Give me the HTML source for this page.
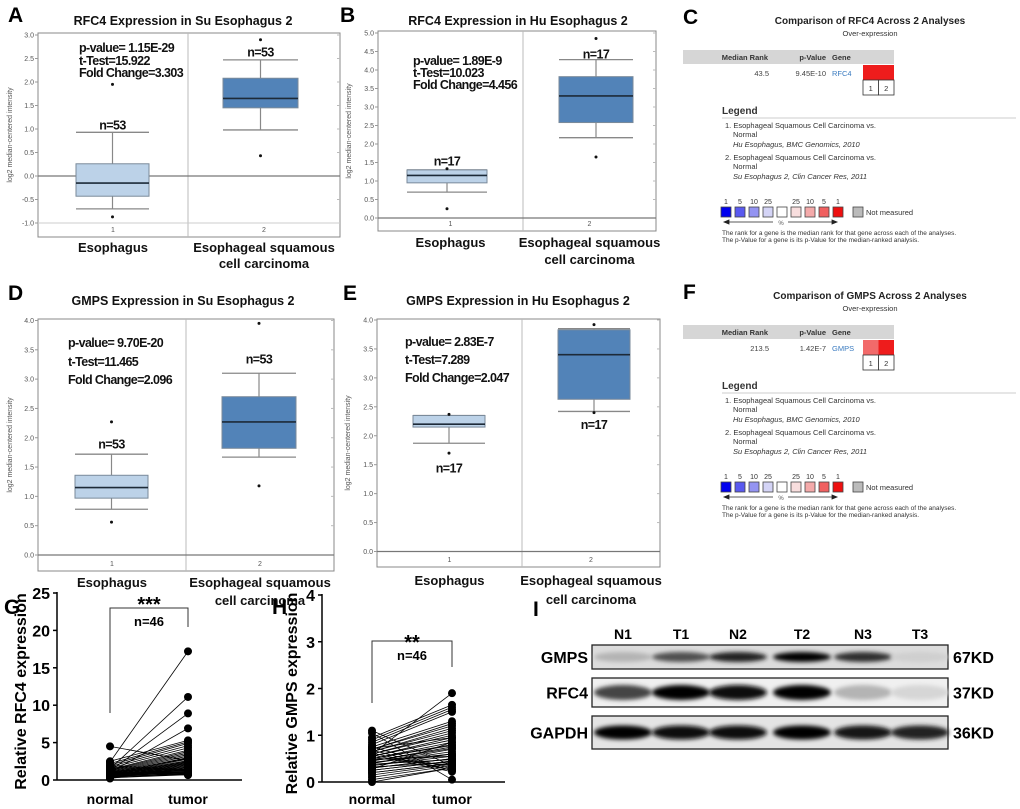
<!DOCTYPE html>
<html><head><meta charset="utf-8"><style>
body{margin:0;background:#fff;}
svg{display:block;font-family:"Liberation Sans",Arial,sans-serif;}
.lt{font-weight:bold;font-size:21px;fill:#000}
.ti{font-weight:bold;font-size:12.5px;fill:#111}
.st{font-weight:bold;font-size:12.5px;fill:#111;letter-spacing:-0.6px}
.tk{font-size:7px;fill:#555}
.cat{font-weight:bold;font-size:13px;fill:#111}
.on{font-size:7.5px;fill:#333}
</style></head><body>
<svg id="fig" width="1020" height="809" viewBox="0 0 1020 809">
<defs><filter id="bl" x="-30%" y="-100%" width="160%" height="300%"><feGaussianBlur stdDeviation="2"/></filter></defs>
<g id="boxes"></g>
<g id="onco"></g>
<g id="pairs"></g>
<g id="wb"></g>
</svg>
<script>
// ---- Box plot data (panels A,B,D,E) ----
const A_low=[-0.7,0.98], A_q1=[-0.43,1.45], A_med=[-0.15,1.65], A_q3=[0.26,2.08], A_high=[0.93,2.47], A_out=[[1.95,-0.87],[0.43,2.9]], A_n=["n=53","n=53"];
const B_low=[0.7,2.17], B_q1=[0.95,2.58], B_med=[1.15,3.3], B_q3=[1.3,3.82], B_high=[1.3,4.28], B_out=[[1.33,0.25],[1.65,4.85]], B_n=["n=17","n=17"];
const D_low=[0.78,1.67], D_q1=[0.97,1.82], D_med=[1.15,2.27], D_q3=[1.36,2.7], D_high=[1.72,3.1], D_out=[[2.27,0.56],[1.18,3.95]], D_n=["n=53","n=53"];
const E_low=[1.87,2.42], E_q1=[2.15,2.63], E_med=[2.2,3.4], E_q3=[2.35,3.83], E_high=[2.35,3.85], E_out=[[2.37,1.7],[2.4,3.92]], E_n=["n=17","n=17"];
const A_ticks=[-1.0,-0.5,0.0,0.5,1.0,1.5,2.0,2.5,3.0];
const B_ticks=[0.0,0.5,1.0,1.5,2.0,2.5,3.0,3.5,4.0,4.5,5.0];
const D_ticks=[0.0,0.5,1.0,1.5,2.0,2.5,3.0,3.5,4.0];
const E_ticks=[0.0,0.5,1.0,1.5,2.0,2.5,3.0,3.5,4.0];
// ---- Paired data (G,H) ----
const G_normal=[2.4,1.5,1.2,1.0,4.5,2.5,2.2,2.0,1.8,1.6,1.4,1.3,1.2,1.1,1.0,0.9,0.9,0.8,0.8,0.7,0.7,0.6,0.6,0.5,0.5,0.4,0.4,0.3,0.3,0.2,1.9,1.7,1.5,1.3,1.1,1.0,0.9,0.8,0.7,0.6,0.5,0.4,0.3,1.2,1.0,0.8];
const G_tumor=[17.2,11.1,8.9,6.9,2.6,5.3,5.1,4.9,4.6,4.3,4.0,3.8,3.6,3.4,3.2,3.0,2.9,2.8,2.6,2.5,2.4,2.3,2.2,2.1,2.0,1.9,1.8,1.7,1.6,1.5,1.4,1.35,1.3,1.2,1.1,1.05,1.0,0.95,0.9,0.85,0.8,0.75,0.7,0.65,1.25,1.15];
const H_normal=[0.6,1.1,1.05,0.95,0.9,0.85,0.8,0.75,0.7,0.7,0.65,0.65,0.6,0.6,0.55,0.55,0.5,0.5,0.5,0.45,0.45,0.4,0.4,0.35,0.35,0.3,0.3,0.25,0.25,0.2,0.2,0.15,0.1,0.05,0.0,0.75,0.68,0.62,0.58,0.52,0.48,0.42,0.38,0.32,0.28,0.72];
const H_tumor=[1.9,0.35,0.05,1.65,1.6,1.55,1.5,1.3,1.25,1.2,1.15,1.1,1.05,1.0,0.95,0.9,0.85,0.8,0.78,0.75,0.72,0.7,0.65,0.6,0.55,0.5,0.5,0.45,0.45,0.4,0.4,0.38,0.35,0.3,0.3,0.28,0.25,0.25,0.22,0.35,0.55,0.6,0.48,0.42,0.85,0.95];
// ---- Western blot intensities (N1,T1,N2,T2,N3,T3) ----
const lanes=["N1","T1","N2","T2","N3","T3"];
const wb_GMPS=[0.2,0.65,0.85,1.0,0.8,0.08];
const wb_RFC4=[0.7,1.0,0.95,1.0,0.2,0.05];
const wb_GAPDH=[1.0,0.95,0.95,1.0,0.92,0.85];

const NS="http://www.w3.org/2000/svg";
function mk(parent,tag,attrs,text){const e=document.createElementNS(NS,tag);for(const k in attrs)e.setAttribute(k,attrs[k]);if(text!==undefined)e.textContent=text;parent.appendChild(e);return e;}

const panels=[
 {key:"A",letter:"A",lx:8,ly:22,title:"RFC4 Expression in Su Esophagus 2",tx:183,ty:25,x0:38,x1:340,top:33,bot:237,div:188,vTop:3.0,yTop:35,vBot:-1.0,yBot:223,bx:[[76,149],[223,298]],
  low:A_low,q1:A_q1,med:A_med,q3:A_q3,high:A_high,out:A_out,n:A_n,nv:[1.1,2.65],ticks:A_ticks,stats:["p-value= 1.15E-29","t-Test=15.922","Fold Change=3.303"],sx:79,sy:[52,65,77],yt:12,lab1:252,lab2:268},
 {key:"B",letter:"B",lx:340,ly:22,title:"RFC4 Expression in Hu Esophagus 2",tx:518,ty:25,x0:378,x1:656,top:31,bot:231,div:523,vTop:5.0,yTop:33,vBot:0.0,yBot:218,bx:[[407,487],[559,633]],
  low:B_low,q1:B_q1,med:B_med,q3:B_q3,high:B_high,out:B_out,n:B_n,nv:[1.55,4.45],ticks:B_ticks,stats:["p-value= 1.89E-9","t-Test=10.023","Fold Change=4.456"],sx:413,sy:[65,77,89],yt:351,lab1:247,lab2:264},
 {key:"D",letter:"D",lx:8,ly:300,title:"GMPS Expression in Su Esophagus 2",tx:183,ty:305,x0:38,x1:334,top:319,bot:571,div:186,vTop:4.0,yTop:320.5,vBot:0.0,yBot:555,bx:[[75,148],[222,296]],
  low:D_low,q1:D_q1,med:D_med,q3:D_q3,high:D_high,out:D_out,n:D_n,nv:[1.9,3.35],ticks:D_ticks,stats:["p-value= 9.70E-20","t-Test=11.465","Fold Change=2.096"],sx:68,sy:[347,366,384],yt:12,lab1:587,lab2:605},
 {key:"E",letter:"E",lx:343,ly:300,title:"GMPS Expression in Hu Esophagus 2",tx:518,ty:305,x0:377,x1:660,top:319,bot:567,div:522,vTop:4.0,yTop:320,vBot:0.0,yBot:551.5,bx:[[413,485],[558,630]],
  low:E_low,q1:E_q1,med:E_med,q3:E_q3,high:E_high,out:E_out,n:E_n,nv:[1.45,2.2],ticks:E_ticks,stats:["p-value= 2.83E-7","t-Test=7.289","Fold Change=2.047"],sx:405,sy:[346,364,382],yt:350,lab1:585,lab2:604}
];
const gB=document.getElementById('boxes');
panels.forEach(p=>{
 const g=mk(gB,'g',{});
 
 
 const y=v=>p.yTop+(p.vTop-v)*(p.yBot-p.yTop)/(p.vTop-p.vBot);
 const L=mk(g,'text',{x:p.lx,y:p.ly,class:'lt'},p.letter);
 
 
 const T=mk(g,'text',{x:p.tx,y:p.ty,class:'ti','text-anchor':'middle'},p.title);
 
 
 const fr=mk(g,'rect',{x:p.x0,y:p.top,width:p.x1-p.x0,height:p.bot-p.top,fill:'#fff',stroke:'#888','stroke-width':1});
 
 
 mk(g,'line',{x1:p.div,y1:p.top,x2:p.div,y2:p.bot,stroke:'#bbb'});
 p.ticks.forEach(t=>{
  const ty=y(t);
  mk(g,'line',{x1:p.x0-3,y1:ty,x2:p.x0,y2:ty,stroke:'#999'});
  mk(g,'line',{x1:p.x1-3,y1:ty,x2:p.x1,y2:ty,stroke:'#bbb'});
  const tl=mk(g,'text',{x:p.x0-4,y:ty+2.5,class:'tk','text-anchor':'end'},t.toFixed(1));
  
  
 });
 if(p.vBot<0) mk(g,'line',{x1:p.x0,y1:y(p.vBot),x2:p.x1,y2:y(p.vBot),stroke:'#ccc'});
 mk(g,'line',{x1:p.x0,y1:y(0),x2:p.x1,y2:y(0),stroke:'#777','stroke-width':1.2});
 const yl=mk(g,'text',{x:0,y:0,class:'tk','text-anchor':'middle',transform:`translate(${p.yt},${(p.top+p.bot)/2}) rotate(-90)`},'log2 median-centered intensity');
 
 
 for(let i=0;i<2;i++){
  const [xa,xb]=p.bx[i], xc=(xa+xb)/2;
  const bg=mk(g,'g',{});
  
  
  mk(bg,'line',{x1:xc,y1:y(p.low[i]),x2:xc,y2:y(p.high[i]),stroke:'#888','stroke-width':1.2});
  mk(bg,'line',{x1:xa,y1:y(p.low[i]),x2:xb,y2:y(p.low[i]),stroke:'#888','stroke-width':1.3});
  mk(bg,'line',{x1:xa,y1:y(p.high[i]),x2:xb,y2:y(p.high[i]),stroke:'#888','stroke-width':1.3});
  mk(bg,'rect',{x:xa,y:y(p.q3[i]),width:xb-xa,height:y(p.q1[i])-y(p.q3[i]),fill:i?'#5283b8':'#bcd2e8',stroke:'#7a8a9a','stroke-width':1});
  mk(bg,'line',{x1:xa,y1:y(p.med[i]),x2:xb,y2:y(p.med[i]),stroke:'#1d2a38','stroke-width':1.6});
  p.out[i].forEach(v=>mk(bg,'circle',{cx:xc,cy:y(v),r:1.5,fill:'#111'}));
  const nt=mk(g,'text',{x:xc,y:y(p.nv[i])+5,class:'st','text-anchor':'middle','font-size':13},p.n[i]);
  
  
  mk(g,'text',{x:i?(p.div+p.x1)/2:(p.x0+p.div)/2,y:p.bot-5,class:'tk','text-anchor':'middle'},String(i+1));
 }
 p.stats.forEach((s,k)=>{const st=mk(g,'text',{x:p.sx,y:p.sy[k],class:'st'},s);
  
  });
 const c1=mk(g,'text',{x:(p.x0+p.div)/2,y:p.lab1,class:'cat','text-anchor':'middle'},'Esophagus');
 
 
 const c2=mk(g,'text',{x:(p.div+p.x1)/2,y:p.lab1,class:'cat','text-anchor':'middle'},'Esophageal squamous');
 
 
 mk(g,'text',{x:(p.div+p.x1)/2,y:p.lab2,class:'cat','text-anchor':'middle'},'cell carcinoma');
});

// ---- Oncomine panels C,F ----
const onco=[
 {key:"c",letter:"C",dy:0,gene:"RFC4",rank:"43.5",pv:"9.45E-10",cells:["#ee1c1c","#ee1c1c"]},
 {key:"f",letter:"F",dy:275,gene:"GMPS",rank:"213.5",pv:"1.42E-7",cells:["#f26a6a","#ee1c1c"]}
];
const swatch=["#0000ee","#5a5af0","#9494f2","#d4d4f6","#ffffff","#f8dede","#f4aaaa","#f06060","#ee1010"];
const swLab=["1","5","10","25","","25","10","5","1"];
const gO=document.getElementById('onco');
onco.forEach(o=>{
 const g=mk(gO,'g',{transform:`translate(0,${o.dy})`});
 
 
 mk(g,'text',{x:683,y:24,class:'lt'},o.letter);
 mk(g,'text',{x:870,y:24,'font-size':10,'font-weight':'bold','text-anchor':'middle',fill:'#222'},`Comparison of ${o.gene} Across 2 Analyses`);
 mk(g,'text',{x:870,y:36,'font-size':7.5,'text-anchor':'middle',fill:'#333'},'Over-expression');
 mk(g,'rect',{x:683,y:50,width:211,height:14,fill:'#d6d6d6'});
 mk(g,'text',{x:768,y:60,'font-size':7.5,'font-weight':'bold','text-anchor':'end',fill:'#333'},'Median Rank');
 mk(g,'text',{x:826,y:60,'font-size':7.5,'font-weight':'bold','text-anchor':'end',fill:'#333'},'p-Value');
 mk(g,'text',{x:832,y:60,'font-size':7.5,'font-weight':'bold',fill:'#333'},'Gene');
 mk(g,'text',{x:769,y:76,'font-size':7.5,'text-anchor':'end',fill:'#444'},o.rank);
 mk(g,'text',{x:826,y:76,'font-size':7.5,'text-anchor':'end',fill:'#444'},o.pv);
 const gl=mk(g,'text',{x:832,y:76,'font-size':7.5,fill:'#3a7bc0'},o.gene);
 
 
 o.cells.forEach((c,i)=>{
  const cr=mk(g,'rect',{x:863+i*15.5,y:65,width:15.5,height:15,fill:c});
  
  
  mk(g,'rect',{x:863+i*15.5,y:80,width:15.5,height:15,fill:'#fff',stroke:'#333','stroke-width':0.8});
  mk(g,'text',{x:870.75+i*15.5,y:91,'font-size':7.5,'text-anchor':'middle',fill:'#333'},String(i+1));
 });
 mk(g,'text',{x:722,y:114,'font-size':10,'font-weight':'bold',fill:'#333'},'Legend');
 mk(g,'line',{x1:722,y1:118,x2:1016,y2:118,stroke:'#ccc'});
 [["1. Esophageal Squamous Cell Carcinoma vs.",725,128,""],["Normal",733,137,""],["Hu Esophagus, BMC Genomics, 2010",733,147,"italic"],
  ["2. Esophageal Squamous Cell Carcinoma vs.",725,160,""],["Normal",733,169,""],["Su Esophagus 2, Clin Cancer Res, 2011",733,179,"italic"]]
  .forEach(t=>mk(g,'text',{x:t[1],y:t[2],class:'on','font-style':t[3]||'normal'},t[0]));
 swatch.forEach((c,i)=>{
  const sx=721+i*14;
  mk(g,'rect',{x:sx,y:207,width:10,height:10,fill:c,stroke:'#444','stroke-width':0.8});
  mk(g,'text',{x:sx+5,y:204,'font-size':7,'text-anchor':'middle',fill:'#333'},swLab[i]);
 });
 mk(g,'rect',{x:853,y:207,width:10,height:10,fill:'#bbb',stroke:'#444','stroke-width':0.8});
 mk(g,'text',{x:866,y:215,class:'on'},'Not measured');
 mk(g,'path',{d:'M724 222 H773 M788 222 H837 M724 222 l5 -2 v4z M837 222 l-5 -2 v4z',stroke:'#222','stroke-width':0.8,fill:'#222'});
 mk(g,'text',{x:781,y:225,'font-size':6,'text-anchor':'middle',fill:'#555'},'%');
 mk(g,'text',{x:722,y:235,'font-size':6.5,fill:'#333'},'The rank for a gene is the median rank for that gene across each of the analyses.');
 mk(g,'text',{x:722,y:242,'font-size':6.5,fill:'#333'},'The p-Value for a gene is its p-Value for the median-ranked analysis.');
});

// ---- Paired plots G,H ----
const pp=[
 {key:"g",letter:"G",lx:4,ly:614,ax:57,ax2:242,y0:780,yT:593,vMax:25,ticks:[0,5,10,15,20,25],xn:110,xt:188,nor:G_normal,tum:G_tumor,ylab:"Relative RFC4 expression",ylx:26,br:[608,713,627],stars:"***",sy:602,ny:626},
 {key:"h",letter:"H",lx:272,ly:614,ax:322,ax2:505,y0:782,yT:595,vMax:4,ticks:[0,1,2,3,4],xn:372,xt:452,nor:H_normal,tum:H_tumor,ylab:"Relative GMPS expression",ylx:297,br:[641,703,667],stars:"**",sy:640,ny:660}
];
const gP=document.getElementById('pairs');
pp.forEach(p=>{
 const g=mk(gP,'g',{});
 
 
 const y=v=>p.y0-(p.y0-p.yT)*v/p.vMax;
 mk(g,'text',{x:p.lx,y:p.ly,class:'lt'},p.letter);
 mk(g,'line',{x1:p.ax,y1:p.yT-1,x2:p.ax,y2:p.y0,stroke:'#000','stroke-width':1.5});
 mk(g,'line',{x1:p.ax,y1:p.y0,x2:p.ax2,y2:p.y0,stroke:'#000','stroke-width':1.5});
 p.ticks.forEach(t=>{
  mk(g,'line',{x1:p.ax-4,y1:y(t),x2:p.ax,y2:y(t),stroke:'#000','stroke-width':1.5});
  const tl=mk(g,'text',{x:p.ax-7,y:y(t)+6,'font-size':16,'font-weight':'bold','text-anchor':'end'},String(t));
  
  
 });
 const yl=mk(g,'text',{x:0,y:0,'font-size':16,'font-weight':'bold','text-anchor':'middle',transform:`translate(${p.ylx},${(p.y0+p.yT)/2+5}) rotate(-90)`},p.ylab);
 
 
 ["normal","tumor"].forEach((s,i)=>{const t=mk(g,'text',{x:i?p.xt:p.xn,y:804,'font-size':14,'font-weight':'bold','text-anchor':'middle'},s);
  
  });
 p.nor.forEach((v,i)=>{
  const l=mk(g,'line',{x1:p.xn,y1:y(v),x2:p.xt,y2:y(p.tum[i]),stroke:'#000','stroke-width':0.8});
  
  
 });
 p.nor.forEach((v,i)=>{
  const a=mk(g,'circle',{cx:p.xn,cy:y(v),r:4,fill:'#000'});
  
  
  const b=mk(g,'circle',{cx:p.xt,cy:y(p.tum[i]),r:4,fill:'#000'});
  
  
 });
 mk(g,'path',{d:`M${p.xn} ${p.br[1]} V${p.br[0]} H${p.xt} V${p.br[2]}`,fill:'none',stroke:'#333','stroke-width':1});
 mk(g,'text',{x:(p.xn+p.xt)/2,y:p.sy+9,'font-size':20,'font-weight':'bold','text-anchor':'middle'},p.stars);
 mk(g,'text',{x:(p.xn+p.xt)/2,y:p.ny,'font-size':13,'font-weight':'bold','text-anchor':'middle'},'n=46');
});

// ---- Western blot ----
const gW=document.getElementById('wb');
mk(gW,'text',{x:533,y:616,class:'lt'},'I');
const laneX=[623,681,738,802,863,920];
lanes.forEach((l,i)=>{const t=mk(gW,'text',{x:laneX[i],y:639,'font-size':14,'font-weight':'bold','text-anchor':'middle'},l);
 
 });
const rows=[
 {name:"GMPS",kd:"67KD",y:645,h:24,bg:"#dcdcdc",vals:wb_GMPS,bh:10},
 {name:"RFC4",kd:"37KD",y:678,h:29,bg:"#f0f0f0",vals:wb_RFC4,bh:15},
 {name:"GAPDH",kd:"36KD",y:716,h:33,bg:"#e4e4e4",vals:wb_GAPDH,bh:14}
];
rows.forEach(r=>{
 const g=mk(gW,'g',{});
 
 
 mk(g,'rect',{x:592,y:r.y,width:356,height:r.h,fill:r.bg,stroke:'#222','stroke-width':1.3});
 r.vals.forEach((v,i)=>{
  const c=Math.round(225-225*v);
  const b=mk(g,'ellipse',{cx:laneX[i],cy:r.y+r.h/2,rx:29,ry:r.bh/2,fill:`rgb(${c},${c},${c})`,filter:'url(#bl)'});
  
  
 });
 mk(g,'text',{x:588,y:r.y+r.h/2+6,'font-size':16,'font-weight':'bold','text-anchor':'end'},r.name);
 mk(g,'text',{x:953,y:r.y+r.h/2+6,'font-size':16,'font-weight':'bold'},r.kd);
});
</script>
</body></html>
